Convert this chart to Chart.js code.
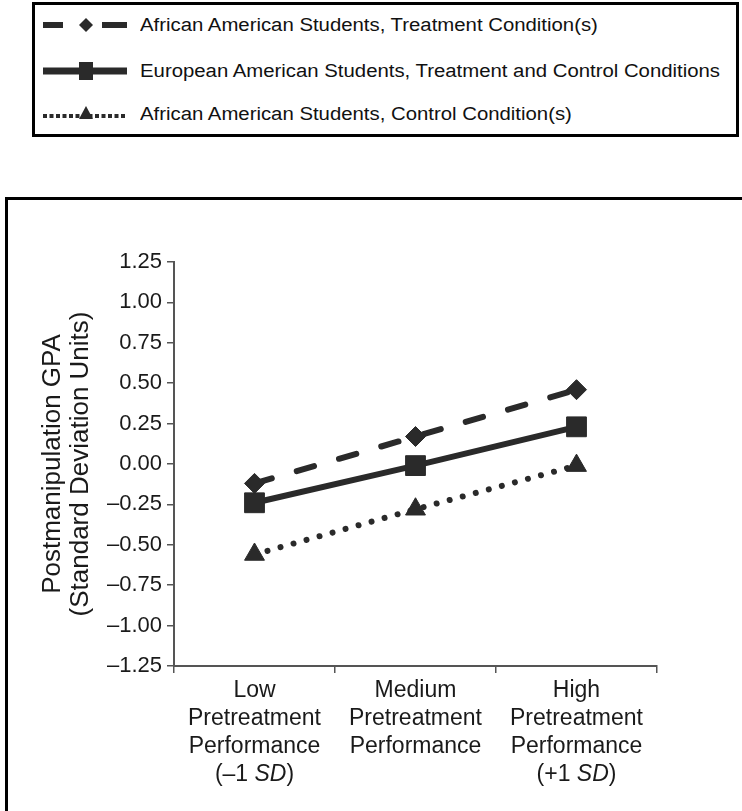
<!DOCTYPE html>
<html>
<head>
<meta charset="utf-8">
<script src="https://cdn.jsdelivr.net/npm/chart.js@4/dist/chart.umd.min.js"></script>
<style>
html,body{margin:0;padding:0;width:742px;height:811px;overflow:hidden;background:#fff;}
#legend{position:absolute;left:32px;top:2px;width:707px;height:135px;box-sizing:border-box;border:3px solid #000;}
.row{position:absolute;left:0;width:700px;height:30px;}
.row canvas{position:absolute;left:5px;top:0;}
.row span{position:absolute;left:105px;top:0;line-height:30px;white-space:nowrap;font-size:18px;font-family:"Liberation Sans",Arial,sans-serif;color:#111;transform:scaleX(1.13);transform-origin:0 50%;}
#frame{position:absolute;left:5px;top:197px;width:800px;height:700px;box-sizing:border-box;border:3px solid #000;}
#chart{position:absolute;left:0;top:0;z-index:2;}
</style>
</head>
<body>
<div id="legend"></div>
<div id="frame"></div>
<canvas id="chart" width="742" height="811"></canvas>
<script>
// ---- data ----
const categories = ["Low", "Medium", "High"];
const xLabelLines = [
  ["Low", "Pretreatment", "Performance", "(\u20131 SD)"],
  ["Medium", "Pretreatment", "Performance"],
  ["High", "Pretreatment", "Performance", "(+1 SD)"]
];
const seriesNames = [
  "African American Students, Treatment Condition(s)",
  "European American Students, Treatment and Control Conditions",
  "African American Students, Control Condition(s)"
];
const aaTreatment = [-0.12, 0.17, 0.46];
const euroAll = [-0.24, -0.01, 0.23];
const aaControl = [-0.56, -0.28, -0.01];
const yTickLabels = ["\u20131.25","\u20131.00","\u20130.75","\u20130.50","\u20130.25","0.00","0.25","0.50","0.75","1.00","1.25"];
const yTitle = ["Postmanipulation GPA", "(Standard Deviation Units)"];

const INK = "#2a2a2a";
const TEXT = "#1a1a1a";
const FAMILY = "'Liberation Sans', Arial, sans-serif";

// ---- legend (HTML) ----
const legend = document.getElementById('legend');
const rowCenters = [20, 65.5, 109];
function drawSample(ctx, kind) {
  ctx.fillStyle = INK; ctx.strokeStyle = INK;
  const cy = 15, mx = 46;
  if (kind === 0) {
    ctx.fillRect(3, cy - 3, 20, 6);
    ctx.fillRect(62, cy - 3, 25, 6);
    ctx.beginPath();
    ctx.moveTo(mx, cy - 7); ctx.lineTo(mx + 7, cy); ctx.lineTo(mx, cy + 7); ctx.lineTo(mx - 7, cy); ctx.closePath(); ctx.fill();
  } else if (kind === 1) {
    ctx.fillRect(3, cy - 3.5, 84, 7);
    ctx.fillRect(mx - 7, cy - 9, 14, 18);
  } else {
    ctx.lineWidth = 4;
    ctx.setLineDash([4, 2.5]);
    ctx.beginPath(); ctx.moveTo(3, cy + 2); ctx.lineTo(87, cy + 2); ctx.stroke();
    ctx.setLineDash([]);
    ctx.beginPath();
    ctx.moveTo(mx, cy - 8); ctx.lineTo(mx + 7, cy + 5); ctx.lineTo(mx - 7, cy + 5); ctx.closePath(); ctx.fill();
  }
}
seriesNames.forEach((name, i) => {
  const row = document.createElement('div');
  row.className = 'row';
  row.style.top = (rowCenters[i] - 15) + 'px';
  const c = document.createElement('canvas');
  c.width = 90; c.height = 30;
  drawSample(c.getContext('2d'), i);
  const s = document.createElement('span');
  s.textContent = name;
  row.appendChild(c); row.appendChild(s);
  legend.appendChild(row);
});

// ---- x labels plugin (mixed italic "SD") ----
const xLabelPlugin = {
  id: 'xLabels',
  afterDraw(chart) {
    const ctx = chart.ctx, xs = chart.scales.x;
    const base = chart.chartArea.bottom + 31;
    ctx.save();
    ctx.fillStyle = TEXT;
    ctx.textBaseline = 'alphabetic';
    const normal = "23px " + FAMILY, italic = "italic 23px " + FAMILY;
    xLabelLines.forEach((lines, i) => {
      const cx = xs.getPixelForValue(i);
      lines.forEach((line, k) => {
        const y = base + k * 28;
        const parts = line.split(/(SD)/).filter(p => p.length);
        let total = 0;
        const widths = parts.map(p => { ctx.font = p === 'SD' ? italic : normal; const w = ctx.measureText(p).width; total += w; return w; });
        let x = cx - total / 2;
        ctx.textAlign = 'left';
        parts.forEach((p, j) => { ctx.font = p === 'SD' ? italic : normal; ctx.fillText(p, x, y); x += widths[j]; });
      });
    });
    ctx.restore();
  }
};

new Chart(document.getElementById('chart'), {
  type: 'line',
  data: {
    labels: categories,
    datasets: [
      { label: seriesNames[0], data: aaTreatment, borderColor: INK, backgroundColor: INK, borderWidth: 6,
        borderDash: [18, 26], borderCapStyle: 'round', pointStyle: 'rectRot', pointRadius: 10,
        pointBackgroundColor: INK, pointBorderColor: INK, pointBorderWidth: 1, tension: 0, fill: false },
      { label: seriesNames[1], data: euroAll, borderColor: INK, backgroundColor: INK, borderWidth: 6,
        pointStyle: 'rect', pointRadius: 14, pointBackgroundColor: INK, pointBorderColor: INK,
        pointBorderWidth: 1, tension: 0, fill: false },
      { label: seriesNames[2], data: aaControl, borderColor: INK, backgroundColor: INK, borderWidth: 6,
        borderDash: [0.01, 13.5], borderCapStyle: 'round', pointStyle: 'triangle', pointRadius: 11.5,
        pointBackgroundColor: INK, pointBorderColor: INK, pointBorderWidth: 1, tension: 0, fill: false }
    ]
  },
  options: {
    responsive: false,
    animation: false,
    layout: { padding: { left: 0, top: 262, right: 85, bottom: 45 } },
    plugins: { legend: { display: false }, tooltip: { enabled: false }, title: { display: false } },
    scales: {
      x: {
        type: 'category',
        offset: true,
        grid: { offset: true, drawOnChartArea: false, drawTicks: true, tickLength: 7, color: '#555', lineWidth: 1.5 },
        border: { display: true, color: '#555', width: 2 },
        ticks: { display: false },
        afterFit(s) { s.height = 100; }
      },
      y: {
        min: -1.25, max: 1.25,
        ticks: { stepSize: 0.25, color: TEXT, padding: 5, font: { family: FAMILY, size: 22 },
                 callback: (v, i) => yTickLabels[i] },
        grid: { drawOnChartArea: false, drawTicks: true, tickLength: 7, color: '#555', lineWidth: 1.5 },
        border: { display: true, color: '#555', width: 2 },
        title: { display: true, text: yTitle, color: TEXT,
                 font: { family: FAMILY, size: 26, lineHeight: 1.06 }, padding: { top: 39, bottom: 0 } },
        afterFit(s) { s.width = 174; }
      }
    }
  },
  plugins: [xLabelPlugin]
});
</script>
</body>
</html>
